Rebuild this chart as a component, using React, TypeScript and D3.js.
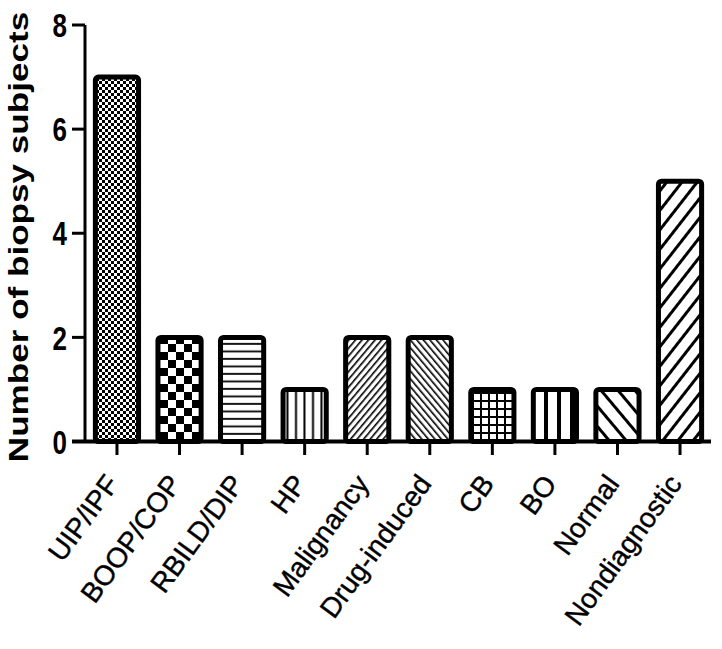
import React from 'react';
import * as d3 from 'd3';

const categories = ['UIP/IPF', 'BOOP/COP', 'RBILD/DIP', 'HP', 'Malignancy', 'Drug-induced', 'CB', 'BO', 'Normal', 'Nondiagnostic'];
const counts = [7, 2, 2, 1, 2, 2, 1, 1, 1, 5];
const patternIds = ['fineCheck', 'coarseCheck', 'hLines', 'vLines', 'fineSlash', 'fineBack', 'grid', 'wideV', 'wideBack', 'wideSlash'];
const yTicks = [0, 2, 4, 6, 8];

const W = 722;
const H = 649;
const STRETCH = 1.3; // axis text in the source is drawn tall and narrow

const App: React.FC = () => {
  const x = d3.scaleBand<string>().domain(categories).range([86, 711]).paddingInner(0.31).paddingOuter(0.15);
  const y = d3.scaleLinear().domain([0, 8]).range([441.5, 25]);
  const y0 = y(0);

  return (
    <svg width={W} height={H} style={{ position: 'absolute', left: 0, top: 0, background: '#fff' }}>
      <defs>
        <pattern id="fineCheck" width={6} height={6} patternUnits="userSpaceOnUse">
          <rect width={6} height={6} fill="#fff" />
          <rect width={3} height={3} fill="#000" />
          <rect x={3} y={3} width={3} height={3} fill="#000" />
        </pattern>
        <pattern id="coarseCheck" width={16} height={16} patternUnits="userSpaceOnUse">
          <rect width={16} height={16} fill="#fff" />
          <rect width={8} height={8} fill="#000" />
          <rect x={8} y={8} width={8} height={8} fill="#000" />
        </pattern>
        <pattern id="hLines" width={8} height={7.5} patternUnits="userSpaceOnUse">
          <rect width={8} height={7.5} fill="#fff" />
          <rect y={5.5} width={8} height={1.8} fill="#000" />
        </pattern>
        <pattern id="vLines" width={8.5} height={8} patternUnits="userSpaceOnUse">
          <rect width={8.5} height={8} fill="#fff" />
          <rect x={6} width={2} height={8} fill="#000" />
        </pattern>
        <pattern id="fineSlash" width={5} height={5} patternUnits="userSpaceOnUse" patternTransform="rotate(40)">
          <rect width={5} height={5} fill="#fff" />
          <rect width={1.6} height={5} fill="#000" />
        </pattern>
        <pattern id="fineBack" width={5} height={5} patternUnits="userSpaceOnUse" patternTransform="rotate(-40)">
          <rect width={5} height={5} fill="#fff" />
          <rect width={1.6} height={5} fill="#000" />
        </pattern>
        <pattern id="grid" width={8} height={8} patternUnits="userSpaceOnUse">
          <rect width={8} height={8} fill="#fff" />
          <rect width={2} height={8} fill="#000" />
          <rect width={8} height={2} fill="#000" />
        </pattern>
        <pattern id="wideV" width={13} height={8} patternUnits="userSpaceOnUse" x={3}>
          <rect width={13} height={8} fill="#fff" />
          <rect x={8} width={4} height={8} fill="#000" />
        </pattern>
        <pattern id="wideBack" width={13} height={13} patternUnits="userSpaceOnUse" patternTransform="rotate(-40)">
          <rect width={13} height={13} fill="#fff" />
          <rect width={3} height={13} fill="#000" />
        </pattern>
        <pattern id="wideSlash" width={12} height={12} patternUnits="userSpaceOnUse" patternTransform="rotate(38)">
          <rect width={12} height={12} fill="#fff" />
          <rect width={3} height={12} fill="#000" />
        </pattern>
      </defs>

      {/* bars */}
      {categories.map((c, i) => (
        <rect
          key={c}
          x={x(c)!}
          y={y(counts[i])}
          width={x.bandwidth()}
          height={y0 - y(counts[i])}
          rx={3}
          fill={`url(#${patternIds[i]})`}
          stroke="#000"
          strokeWidth={5}
        />
      ))}

      {/* y axis */}
      <line x1={85} x2={85} y1={y(8)} y2={y0} stroke="#000" strokeWidth={3} />
      {yTicks.map(t => (
        <g key={t}>
          <line x1={72} x2={85} y1={y(t)} y2={y(t)} stroke="#000" strokeWidth={3} />
          <text
            transform={`translate(67,${y(t)}) scale(1,${STRETCH})`}
            textAnchor="end"
            dy="0.36em"
            fontFamily="Liberation Sans, Arial, sans-serif"
            fontWeight="bold"
            fontSize={26}
          >
            {t}
          </text>
        </g>
      ))}

      {/* x axis */}
      <line x1={72} x2={711} y1={y0} y2={y0} stroke="#000" strokeWidth={4} />
      {categories.map(c => {
        const cx = x(c)! + x.bandwidth() / 2;
        return (
          <g key={c}>
            <line x1={cx} x2={cx} y1={y0} y2={455} stroke="#000" strokeWidth={3} />
            <text
              transform={`translate(${cx + 3},${484}) rotate(-54)`}
              textAnchor="end"
              fontFamily="Liberation Sans, Arial, sans-serif"
              fontSize={28}
              stroke="#000"
              strokeWidth={0.4}
            >
              {c}
            </text>
          </g>
        );
      })}

      {/* y title */}
      <text
        transform={`translate(28,237) scale(1,${STRETCH}) rotate(-90)`}
        textAnchor="middle"
        fontFamily="Liberation Sans, Arial, sans-serif"
        fontWeight="bold"
        fontSize={27}
      >
        Number of biopsy subjects
      </text>
    </svg>
  );
};

export default App;
